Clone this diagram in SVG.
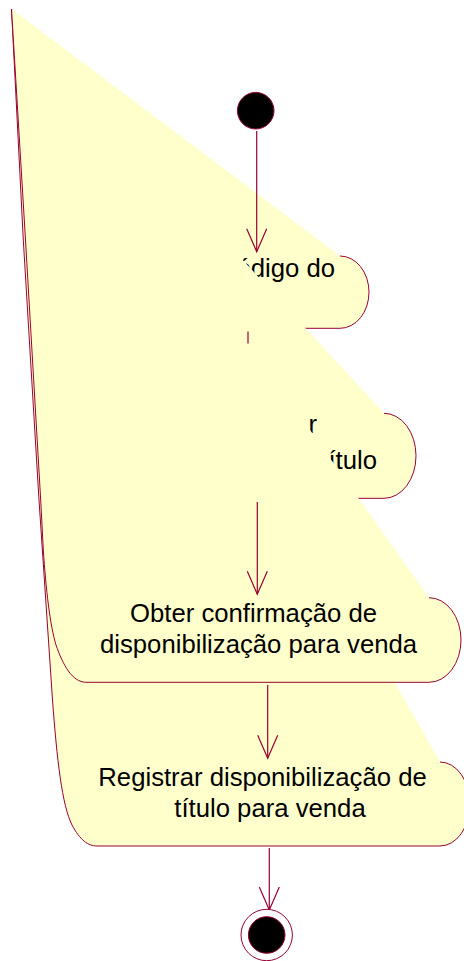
<svg xmlns="http://www.w3.org/2000/svg" width="464" height="961" viewBox="0 0 464 961">
<style>
.fill{fill:#FFFFCC;stroke:none}
.edge{fill:none;stroke:#990033;stroke-width:1}
.lbl{font-family:"Liberation Sans",Arial,sans-serif;font-size:25.7px;fill:#000}
.conn{fill:none;stroke:#990033;stroke-width:1.2}
.arr{marker-end:url(#arr)}
</style>
<defs>
<marker id="arr" markerUnits="userSpaceOnUse" markerWidth="40" markerHeight="40" viewBox="-30 -15 40 30" refX="0" refY="0" orient="auto" overflow="visible">
<path d="M-23,-10 L0,0 L-23,10" fill="none" stroke="#990033" stroke-width="1.2"/>
</marker>
</defs>
<rect width="464" height="961" fill="#fff"/>
<g id="node1">
<path class="fill" d="M11.5,9 L340,256 A29 36.15 0 0 1 340,328.3 L95,328.3 C75,328 65,300 60,270 Z"/>
<path class="edge" d="M340,256 A29 36.15 0 0 1 340,328.3 L95,328.3 C75,328 65,300 60,270 L11.5,9"/>
<text class="lbl" x="335" y="277.3" text-anchor="end">ódigo do</text>
</g>
<g id="node2">
<path class="fill" d="M11.5,9 L384,413.3 A32 42.5 0 0 1 384,498.3 L90,498.3 C70,498 58,470 52,430 Z"/>
<path class="edge" d="M384,413.3 A32 42.5 0 0 1 384,498.3 L90,498.3 C70,498 58,470 52,430 L11.5,9"/>
<text class="lbl" x="317" y="433.3" text-anchor="end">r</text>
<text class="lbl" x="377" y="469.3" text-anchor="end">ítulo</text>
</g>
<g id="node4">
<path class="fill" d="M11.5,9 L440,762 A30 42 0 0 1 440,846 L97,846 C88,846 80,840 72,825 C62,805 57,760 52.5,700 L39,500 L23.3,240 Z"/>
<path class="edge" d="M440,762 A30 42 0 0 1 440,846 L97,846 C88,846 80,840 72,825 C62,805 57,760 52.5,700 L39,500 L23.3,240 L11.5,9"/>
<text class="lbl" x="98.3" y="786">Registrar disponibilização de</text>
<text class="lbl" x="174.3" y="817.3">título para venda</text>
</g>
<g id="node3">
<path class="fill" d="M11.5,9 L429,597.7 A32 42.3 0 0 1 429,682.3 L86,682.3 C72,682 63,665 56,645 C50,625 46,590 43.3,550 L40.7,500 L25.5,240 Z"/>
<path class="edge" d="M429,597.7 A32 42.3 0 0 1 429,682.3 L86,682.3 C72,682 63,665 56,645 C50,625 46,590 43.3,550 L40.7,500 L25.5,240 L11.5,9"/>
<text class="lbl" x="130" y="621.7">Obter confirmação de</text>
<text class="lbl" x="100" y="653.3">disponibilização para venda</text>
</g>
<g id="connectors">
<line class="conn arr" x1="256.7" y1="131" x2="256.7" y2="251.7"/>
<line class="conn" x1="248" y1="331.5" x2="248" y2="343.5"/>
<line class="conn arr" x1="257.3" y1="502" x2="257.3" y2="594.3"/>
<line class="conn arr" x1="267.7" y1="685" x2="267.7" y2="758.3"/>
<line class="conn arr" x1="269.3" y1="848" x2="269.3" y2="910"/>
</g>
<g id="start">
<circle cx="255.7" cy="110.7" r="18.3" fill="#000" stroke="#990033" stroke-width="1"/>
</g>
<g id="end">
<circle cx="266.7" cy="935" r="25.7" fill="#fff" stroke="#990033" stroke-width="1"/>
<circle cx="266.7" cy="935" r="18.3" fill="#000" stroke="#990033" stroke-width="1"/>
</g>
</svg>
